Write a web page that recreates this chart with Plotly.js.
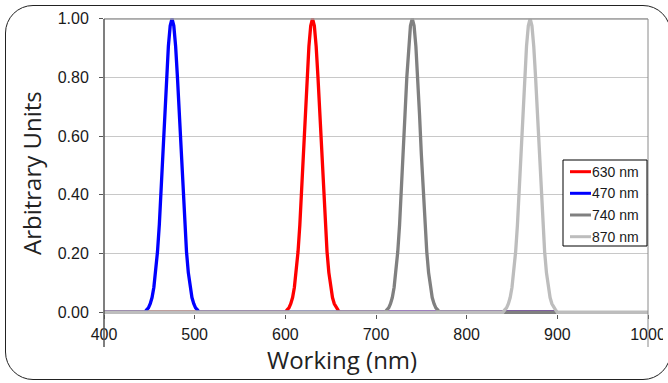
<!DOCTYPE html>
<html>
<head>
<meta charset="utf-8">
<script src="https://cdn.plot.ly/plotly-3.0.1.min.js"></script>
<style>
  html, body { margin: 0; padding: 0; background: #ffffff; }
  #wrap { position: relative; width: 668px; height: 383px; overflow: hidden; }
  #chart { position: absolute; left: 0; top: 0; width: 668px; height: 383px; }
  #frame { position: absolute; left: 5px; top: 5px; width: 666px; height: 375px; box-sizing: border-box;
           border: 1.3px solid #222; border-radius: 28px; pointer-events: none; }
</style>
</head>
<body>
<div id="wrap"><div id="chart"></div><div id="frame"></div></div>
<script>
// ---- data ----
const seriesNames = ['630 nm', '470 nm', '740 nm', '870 nm'];

const x630 = [400, 600,602,604,606,608,610,612,614,616,618,620,622,624,626,628,630,632,634,636,638,640,642,644,646,648,650,652,654,656,658,660, 900];
const y630 = [0, 0,0.008,0.015,0.029,0.050,0.085,0.135,0.206,0.298,0.411,0.539,0.674,0.801,0.906,0.976,1.000,0.976,0.906,0.801,0.674,0.539,0.411,0.298,0.206,0.135,0.085,0.050,0.029,0.015,0.008,0, 0];

const x470 = [400, 445,447,449,451,453,455,457,459,461,463,465,467,469,471,473,475,477,479,481,483,485,487,489,491,493,495,497,499,501,503,505, 900];
const y470 = [0, 0,0.008,0.015,0.029,0.050,0.085,0.135,0.206,0.298,0.411,0.539,0.674,0.801,0.906,0.976,1.000,0.976,0.906,0.801,0.674,0.539,0.411,0.298,0.206,0.135,0.085,0.050,0.029,0.015,0.008,0, 0];

const x740 = [400, 710,712,714,716,718,720,722,724,726,728,730,732,734,736,738,740,742,744,746,748,750,752,754,756,758,760,762,764,766,768,770, 900];
const y740 = [0, 0,0.008,0.015,0.029,0.050,0.085,0.135,0.206,0.298,0.411,0.539,0.674,0.801,0.906,0.976,1.000,0.976,0.906,0.801,0.674,0.539,0.411,0.298,0.206,0.135,0.085,0.050,0.029,0.015,0.008,0, 0];

const x870 = [400, 840,842,844,846,848,850,852,854,856,858,860,862,864,866,868,870,872,874,876,878,880,882,884,886,888,890,892,894,896,898,900, 1000];
const y870 = [0, 0,0.008,0.015,0.029,0.050,0.085,0.135,0.206,0.298,0.411,0.539,0.674,0.801,0.906,0.976,1.000,0.976,0.906,0.801,0.674,0.539,0.411,0.298,0.206,0.135,0.085,0.050,0.029,0.015,0.008,0, 0];

const xTicks = [400, 500, 600, 700, 800, 900, 1000];
const yTicks = [0, 0.2, 0.4, 0.6, 0.8, 1.0];
const xTitle = 'Working (nm)';
const yTitle = 'Arbitrary Units';

// ---- styles ----
const colors = ['#ff0000', '#0000ff', '#808080', '#bdbdbd'];
const xs = [x630, x470, x740, x870];
const ys = [y630, y470, y740, y870];

const W = 668, H = 383, ML = 104, MR = 20, MT = 17, MB = 69;
const PW = W - ML - MR, PH = H - MT - MB;
const px = v => (v - ML) / PW;          // pixel x -> paper
const py = v => (H - MB - v) / PH;      // pixel y -> paper

const traces = seriesNames.map((n, i) => ({
  type: 'scatter', mode: 'lines', name: n, x: xs[i], y: ys[i],
  line: { color: colors[i], width: 3.3 }, hoverinfo: 'skip', showlegend: false
}));

const tickFont = { family: 'Liberation Sans, Arial, sans-serif', size: 16, color: '#1a1a1a' };
const shapes = [
  // cover to clip the last tick label at the frame edge
  { type: 'rect', xref: 'paper', yref: 'paper', x0: px(663), x1: px(668), y0: py(346), y1: py(320),
    fillcolor: '#ffffff', line: { width: 0 }, layer: 'above' },
  // top frame line
  { type: 'line', xref: 'paper', yref: 'paper', x0: 0, x1: 1, y0: py(19), y1: py(19),
    line: { color: '#a0a0a0', width: 1.5 }, layer: 'above' },
  // right frame line
  { type: 'line', xref: 'paper', yref: 'paper', x0: 1, x1: 1, y0: py(347), y1: py(19),
    line: { color: '#8a8a8a', width: 1 }, layer: 'above' },
  // y axis line
  { type: 'line', xref: 'paper', yref: 'paper', x0: 0, x1: 0, y0: py(347), y1: py(19),
    line: { color: '#555555', width: 1.5 }, layer: 'above' },
  // legend box
  { type: 'rect', xref: 'paper', yref: 'paper', x0: px(563), x1: px(647), y0: py(246), y1: py(160),
    fillcolor: '#ffffff', line: { color: '#000000', width: 1 }, layer: 'above' }
];
const annotations = [
  { xref: 'paper', yref: 'paper', x: px(342), y: py(359), text: xTitle, showarrow: false,
    xanchor: 'center', yanchor: 'middle', font: { family: 'Open Sans, sans-serif', size: 24, color: '#222' } },
  { xref: 'paper', yref: 'paper', x: px(31), y: py(173), text: yTitle, showarrow: false, textangle: -90,
    xanchor: 'center', yanchor: 'middle', font: { family: 'Open Sans, sans-serif', size: 24, color: '#222' } }
];
const legY = [171.7, 193.3, 215, 236.7];
seriesNames.forEach((n, i) => {
  shapes.push({ type: 'line', xref: 'paper', yref: 'paper', x0: px(570), x1: px(591), y0: py(legY[i]), y1: py(legY[i]),
    line: { color: colors[i], width: 3 }, layer: 'above' });
  annotations.push({ xref: 'paper', yref: 'paper', x: px(590), y: py(legY[i]), text: n, showarrow: false,
    xanchor: 'left', yanchor: 'middle', font: { family: 'Liberation Sans, Arial, sans-serif', size: 14, color: '#1a1a1a' } });
});

const layout = {
  width: W, height: H,
  margin: { l: ML, r: MR, t: MT, b: MB, pad: 0 },
  paper_bgcolor: 'rgba(0,0,0,0)', plot_bgcolor: '#ffffff',
  showlegend: false,
  xaxis: {
    range: [400, 1000], tickmode: 'array', tickvals: xTicks, ticktext: xTicks.map(String),
    showgrid: false, zeroline: false, showline: false,
    ticks: 'outside', ticklen: 4, tickcolor: '#555', tickfont: tickFont, ticklabelstandoff: 2
  },
  yaxis: {
    range: [-0.006, 1.006], tickmode: 'array', tickvals: yTicks, ticktext: yTicks.map(v => v.toFixed(2)),
    showgrid: true, gridcolor: '#c8c8c8', gridwidth: 1, zeroline: false, showline: false,
    ticks: 'outside', ticklen: 4, tickcolor: '#555', tickfont: tickFont, ticklabelstandoff: 7
  },
  shapes: shapes,
  annotations: annotations
};

Plotly.newPlot('chart', traces, layout, { staticPlot: true, displayModeBar: false });
</script>
</body>
</html>
